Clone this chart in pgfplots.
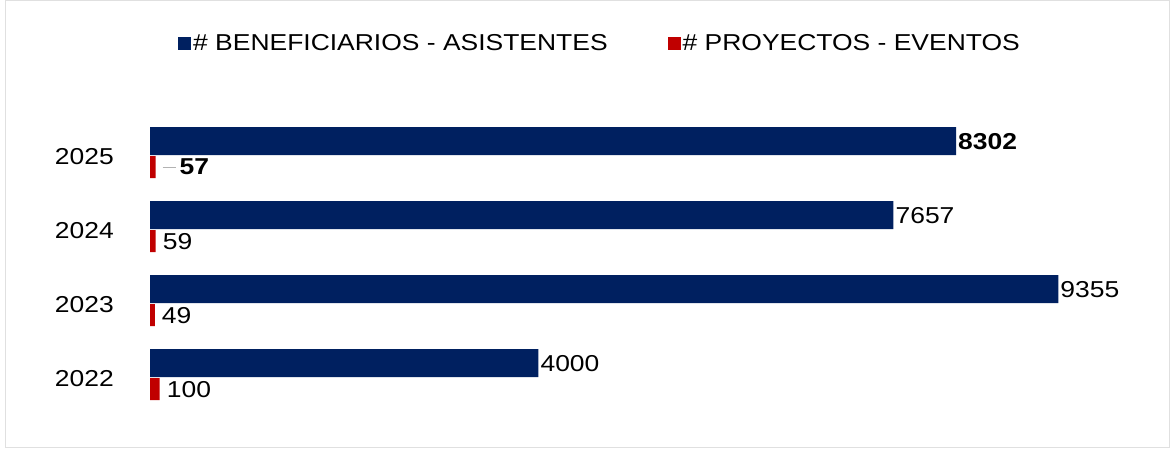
\documentclass[border=0pt]{standalone}
\usepackage{fontspec}
\setmainfont[FakeStretch=1.15]{Liberation Sans}
\usepackage{pgfplots}
\pgfplotsset{compat=1.18}
\definecolor{navy}{HTML}{002060}
\definecolor{dred}{HTML}{C00000}
\begin{document}
\begin{tikzpicture}
\path (0pt,0pt) rectangle (1174pt,449pt);
\draw[black!12, line width=1pt] (5pt,1pt) rectangle (1169pt,448pt);
\begin{axis}[
  at={(150pt,17pt)}, anchor=south west,
  scale only axis, width=1000pt, height=325.6pt,
  xmin=0, xmax=10300, ymin=-0.7, ymax=3.7,
  xbar,
  axis x line=none,
  axis y line*=left,
  y axis line style={draw=none},
  ytick={0,1,2,3}, yticklabels={2022,2023,2024,2025},
  ytick style={draw=none}, major tick length=0pt,
  yticklabel style={font=\fontsize{23}{27}\selectfont, inner sep=0pt, xshift=-36pt, yshift=2pt},
  legend style={at={(0.45,1.193)}, anchor=center, draw=none, fill=none,
    legend columns=2, font=\fontsize{23}{27}\selectfont,
    /tikz/every even column/.append style={column sep=58pt}},
  legend image code/.code={\fill[#1,draw=none] (0pt,-6.5pt) rectangle (13pt,6.5pt);},
  point meta=explicit symbolic,
  nodes near coords,
  nodes near coords style={anchor=west, font=\fontsize{23}{27}\selectfont, text=black, inner sep=1pt},
]
\addplot[fill=navy, draw=none, bar width=28pt, bar shift=17pt,
  nodes near coords style={xshift=1pt}] coordinates {
  (4000,0) [4000]
  (9355,1) [9355]
  (7657,2) [7657]
  (8302,3) [\textbf{8302}]
};
\addlegendentry{\# BENEFICIARIOS - ASISTENTES}
\addplot[fill=dred, draw=none, bar width=22pt, bar shift=-9pt,
  nodes near coords style={xshift=6pt}] coordinates {
  (100,0) [100]
  (49,1) [49]
  (59,2) [59]
  (57,3) [{\textcolor{black!30}{\rule[0.3em]{13pt}{1.2pt}}\hspace{4pt}\textbf{57}}]
};
\addlegendentry{\# PROYECTOS - EVENTOS}
\end{axis}
\end{tikzpicture}
\end{document}
